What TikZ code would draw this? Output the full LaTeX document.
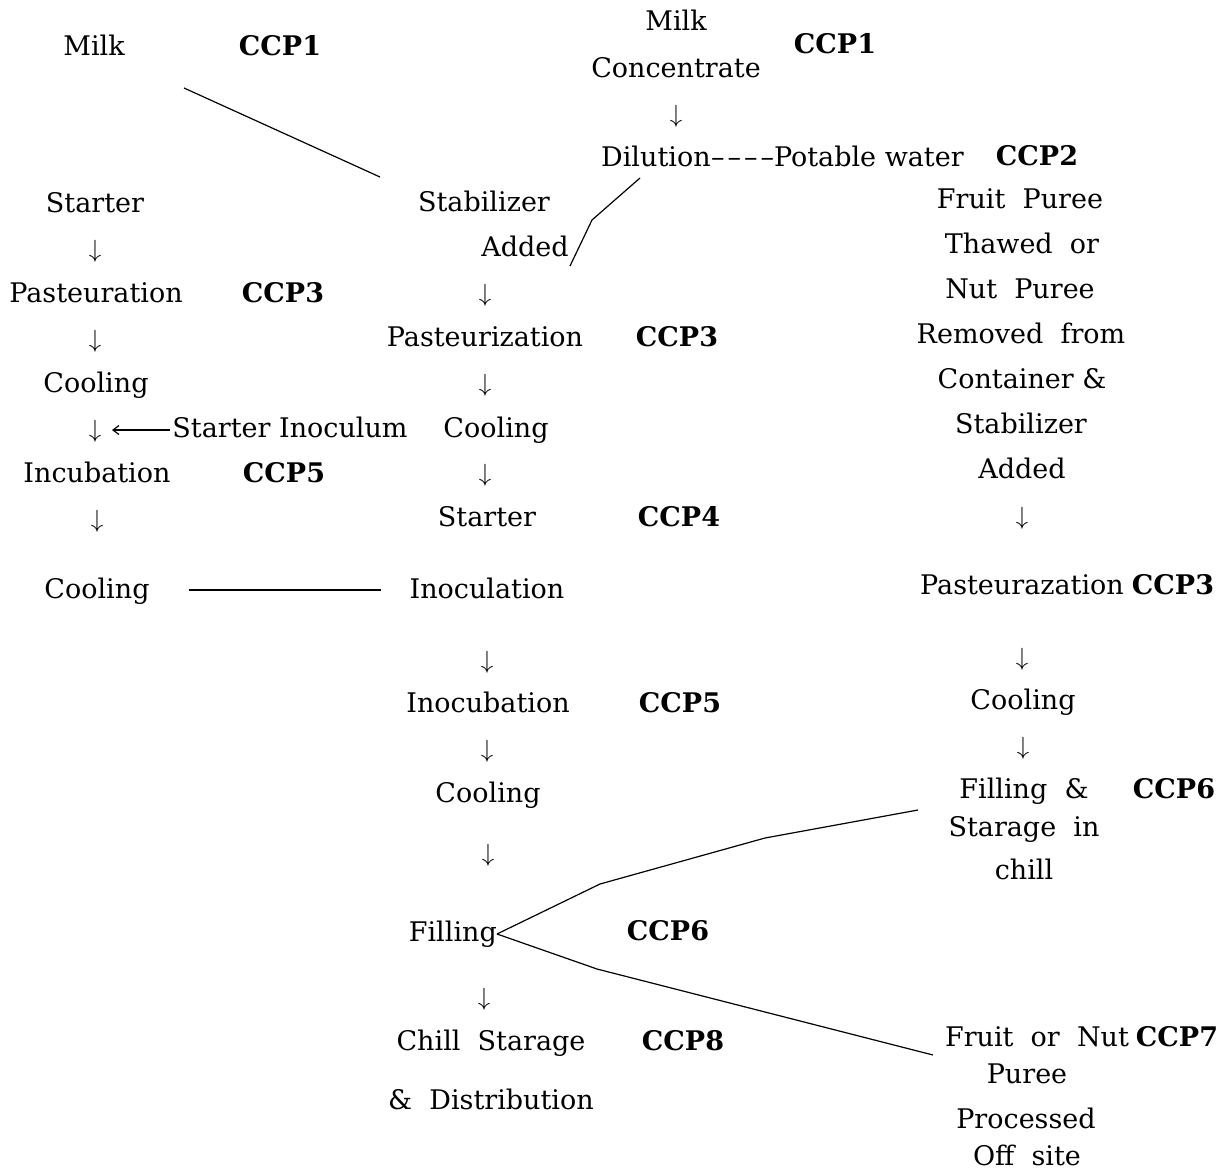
\documentclass[tikz,border=0pt]{standalone}
\usepackage{fontspec}
\setmainfont{DejaVu Serif}
\usetikzlibrary{arrows.meta}
\begin{document}
\begin{tikzpicture}[x=1pt,y=-1pt,
  lbl/.style={font=\fontsize{27}{32}\selectfont, inner sep=0pt, text height=20pt, text depth=6pt, yshift=-3pt},
  ccp/.style={lbl, font=\fontsize{27}{32}\selectfont\bfseries},
  dn/.style={lbl, font=\fontsize{29}{32}\selectfont},
  link/.style={line width=1.2pt}]
\useasboundingbox[fill=white] (0,0) rectangle (1227,1170);

% ---- top row
\node[lbl] (milk) at (94,45) {Milk};
\node[ccp] (ccp1a) at (280,45) {CCP1};
\node[lbl] (mc1) at (676,20) {Milk};
\node[lbl] (mc2) at (676,67) {Concentrate};
\node[ccp] (ccp1b) at (835,43) {CCP1};
\node[dn] (d0) at (676,112) {$\downarrow$};
\node[lbl, anchor=west] (dil) at (601,156) {Dilution};
\node[lbl, anchor=west, yshift=3pt] (pw) at (dil.east) {–\kern3pt–\kern3pt–\kern3pt–Potable\ water};
\node[ccp] (ccp2) at (1037,155) {CCP2};

% ---- left column
\node[lbl] (l1) at (95,202) {Starter};
\node[dn] (l2) at (95,247) {$\downarrow$};
\node[lbl] (l3) at (96,292) {Pasteuration};
\node[ccp] (l3c) at (283,292) {CCP3};
\node[dn] (l4) at (95,337) {$\downarrow$};
\node[lbl] (l5) at (96,382) {Cooling};
\node[dn] (l6) at (95,427) {$\downarrow$};
\node[lbl] (si) at (290,427) {Starter\ Inoculum};
\node[lbl] (l7) at (97,472) {Incubation};
\node[ccp] (l7c) at (284,472) {CCP5};
\node[dn] (l8) at (97,517) {$\downarrow$};
\node[lbl] (l9) at (97,588) {Cooling};

% ---- middle column
\node[lbl] (m1) at (484,201) {Stabilizer};
\node[lbl] (m2) at (525,246) {Added};
\node[dn] (m3) at (485,291) {$\downarrow$};
\node[lbl] (m4) at (485,336) {Pasteurization};
\node[ccp] (m4c) at (677,336) {CCP3};
\node[dn] (m5) at (485,381) {$\downarrow$};
\node[lbl] (m6) at (496,427) {Cooling};
\node[dn] (m7) at (485,471) {$\downarrow$};
\node[lbl] (m8) at (487,516) {Starter};
\node[ccp] (m8c) at (679,516) {CCP4};
\node[lbl] (m9) at (487,588) {Inoculation};
\node[dn] (m10) at (487,658) {$\downarrow$};
\node[lbl] (m11) at (488,702) {Inocubation};
\node[ccp] (m11c) at (680,702) {CCP5};
\node[dn] (m12) at (487,747) {$\downarrow$};
\node[lbl] (m13) at (488,792) {Cooling};
\node[dn] (m14) at (488,851) {$\downarrow$};
\node[lbl, anchor=east] (fill) at (497,931) {Filling};
\node[ccp] (m15c) at (668,930) {CCP6};
\node[dn] (m16) at (484,995) {$\downarrow$};
\node[lbl] (m17) at (491,1040) {Chill\ \ Starage};
\node[ccp] (m17c) at (683,1040) {CCP8};
\node[lbl] (m18) at (491,1099) {\&\ \ Distribution};

% ---- right column
\node[lbl] (r1) at (1020,198) {Fruit\ \ Puree};
\node[lbl] (r2) at (1022,243) {Thawed\ \ or};
\node[lbl] (r3) at (1020,288) {Nut\ \ Puree};
\node[lbl] (r4) at (1021,333) {Removed\ \ from};
\node[lbl] (r5) at (1022,378) {Container \&};
\node[lbl] (r6) at (1021,423) {Stabilizer};
\node[lbl] (r7) at (1022,468) {Added};
\node[dn] (r8) at (1022,514) {$\downarrow$};
\node[lbl] (r9) at (1022,584) {Pasteurazation};
\node[ccp] (r9c) at (1173,584) {CCP3};
\node[dn] (r10) at (1022,655) {$\downarrow$};
\node[lbl] (r11) at (1023,699) {Cooling};
\node[dn] (r12) at (1023,744) {$\downarrow$};
\node[lbl] (r13) at (1024,788) {Filling \ \&};
\node[ccp] (r13c) at (1174,788) {CCP6};
\node[lbl] (r14) at (1024,826) {Starage\ \ in};
\node[lbl] (r15) at (1024,869) {chill};
\node[lbl] (r16) at (1037,1036) {Fruit\ \ or\ \ Nut};
\node[ccp] (r16c) at (1177,1036) {CCP7};
\node[lbl] (r17) at (1027,1073) {Puree};
\node[lbl] (r18) at (1026,1118) {Processed};
\node[lbl] (r19) at (1027,1155) {Off\ \ site};

% ---- connectors
\coordinate (a1) at (184,88);
\coordinate (a2) at (380,177);
\draw[link] (a1) -- (a2);

\coordinate (b1) at (640,178);
\coordinate (b2) at (592,220);
\coordinate (b3) at (570,266);
\draw[link] (b1) -- (b2) -- (b3);

\coordinate (c1) at (112,430);
\draw[link, {Straight Barb[length=6pt,width=9pt]}-] (c1) -- ([xshift=-2pt]si.west);

\coordinate (e1) at (189,590);
\coordinate (e2) at (381,590);
\draw[link] (e1) -- (e2);

\coordinate (f1) at (600,884);
\coordinate (f2) at (765,838);
\coordinate (f3) at (918,810);
\draw[link] (fill.east) -- (f1) -- (f2) -- (f3);
\coordinate (g1) at (597,969);
\coordinate (g2) at (933,1055);
\draw[link] (fill.east) -- (g1) -- (g2);
\end{tikzpicture}
\end{document}
